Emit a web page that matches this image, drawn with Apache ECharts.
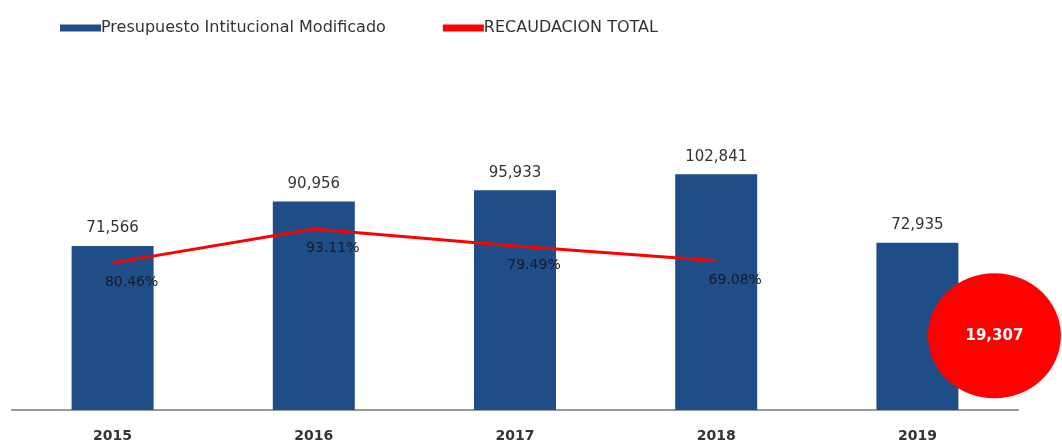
<!DOCTYPE html>
<html>
<head>
<meta charset="utf-8">
<script src="https://cdn.jsdelivr.net/npm/echarts@6/dist/echarts.min.js"></script>
<style>
html,body{margin:0;padding:0;background:#fff;}
#main{width:1062px;height:443px;}
</style>
</head>
<body>
<div id="main"></div>
<script>
var years = ['2015', '2016', '2017', '2018', '2019'];
var presupuesto = [71566, 90956, 95933, 102841, 72935]; // barras
var recaudacion = [64200, 79000, 71600, 65100, null];   // linea roja
var porcentajes = ['80.46%', '93.11%', '79.49%', '69.08%', ''];
var recaudacion2019 = [null, null, null, null, 19307];

var myChart = echarts.init(document.getElementById('main'));
var fuente = '"DejaVu Sans", sans-serif';

var option = {
    backgroundColor: '#fff',
    legend: {
        left: 55,
        top: 15,
        itemGap: 57,
        itemWidth: 41,
        itemHeight: 7,
        data: [
            {name: 'Presupuesto Intitucional Modificado', icon: 'rect'},
            {name: 'RECAUDACION TOTAL', icon: 'rect', itemStyle: {color: '#ff0000'}}
        ],
        textStyle: {color: '#333', fontSize: 16, fontFamily: fuente, padding: [0, 0, 0, -5]}
    },
    grid: {
        left: 12,
        right: 44,
        top: 135,
        bottom: 33
    },
    xAxis: {
        type: 'category',
        data: years,
        axisLine: {lineStyle: {color: '#999', width: 2}},
        axisTick: {show: false},
        axisLabel: {color: '#333', fontSize: 14, fontWeight: 'bold', fontFamily: fuente, margin: 19}
    },
    yAxis: {
        type: 'value',
        min: 0,
        max: 120000,
        show: false,
        splitLine: {show: false}
    },
    series: [
        {
            name: 'Presupuesto Intitucional Modificado',
            type: 'bar',
            barWidth: 82,
            data: presupuesto,
            itemStyle: {color: '#1f4d88'},
            label: {
                show: true,
                position: 'top',
                distance: 10,
                color: '#333',
                fontSize: 15,
                fontFamily: fuente,
                formatter: function (p) {
                    return p.value.toLocaleString('en-US');
                }
            }
        },
        {
            name: 'RECAUDACION TOTAL',
            type: 'line',
            data: recaudacion,
            symbol: 'circle',
            symbolSize: 1,
            showSymbol: true,
            lineStyle: {color: '#ff0000', width: 3},
            itemStyle: {color: '#ff0000'},
            label: {
                show: true,
                position: 'bottom',
                offset: [19, 7],
                color: '#1a1a2a',
                fontSize: 14,
                fontFamily: fuente,
                formatter: function (p) {
                    return porcentajes[p.dataIndex];
                }
            },
            z: 5
        },
        {
            name: 'Recaudacion 2019',
            type: 'scatter',
            data: recaudacion2019,
            symbol: 'circle',
            symbolSize: [133, 125],
            symbolOffset: [77, -30],
            itemStyle: {color: '#ff0000', opacity: 1},
            label: {
                show: true,
                position: 'inside',
                color: '#fff',
                fontWeight: 'bold',
                fontSize: 15,
                fontFamily: fuente,
                formatter: function (p) {
                    return p.value.toLocaleString('en-US');
                }
            },
            z: 6
        }
    ]
};

myChart.setOption(option);
</script>
</body>
</html>
